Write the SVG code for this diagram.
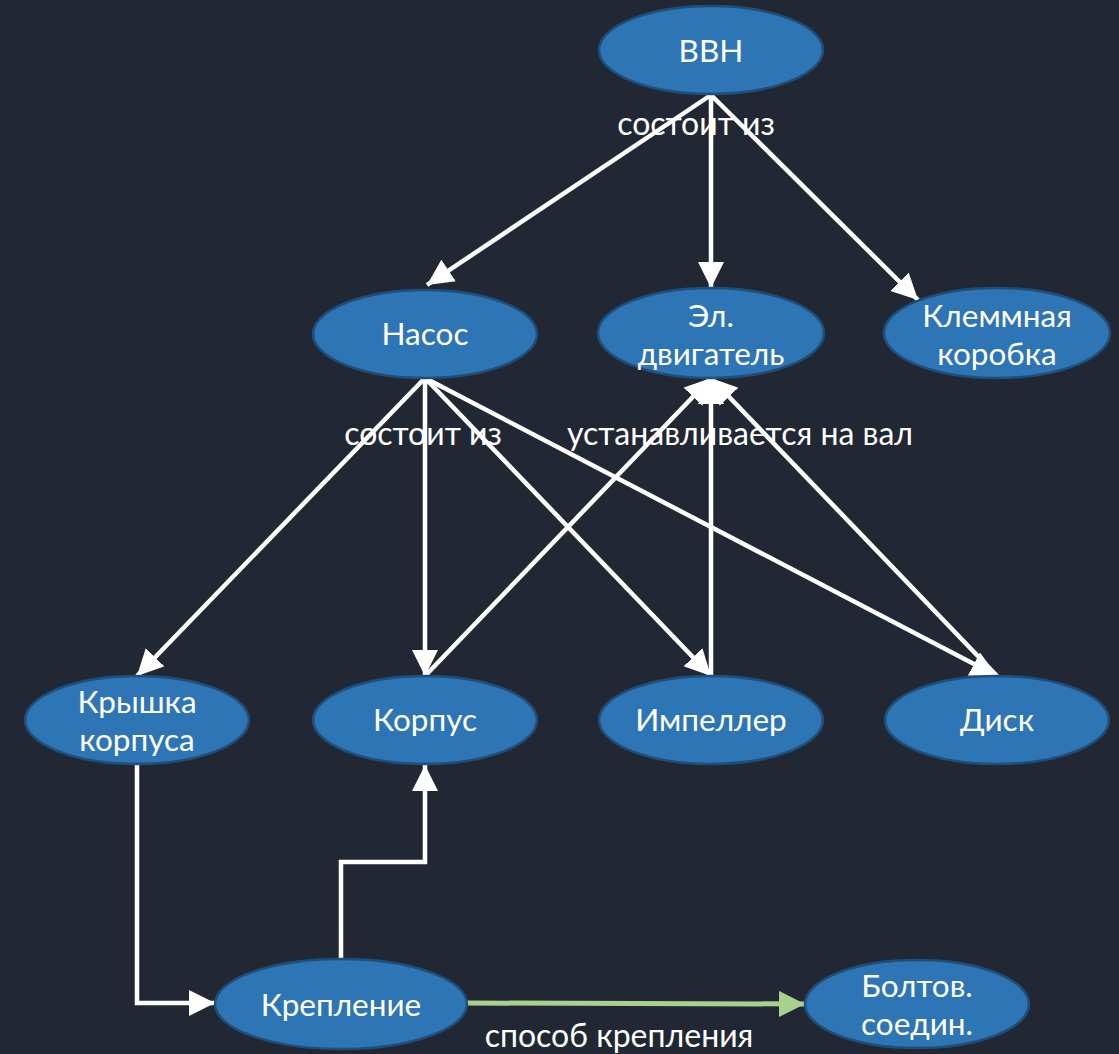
<svg xmlns="http://www.w3.org/2000/svg" width="1119" height="1054" viewBox="0 0 1119 1054">
  <style>
    .node ellipse { fill: #2e75b6; stroke: #1f4e79; stroke-width: 2.5; }
    .node text { fill: #ffffff; font-family: Lato, "Liberation Sans", sans-serif; font-size: 31.5px; text-anchor: middle; }
    .edge { fill: none; stroke: #ffffff; stroke-width: 4.5; marker-end: url(#arrow); }
    .edge-green { fill: none; stroke: #a9d18e; stroke-width: 5; marker-end: url(#arrow-green); }
    .label { fill: #ffffff; font-family: Lato, "Liberation Sans", sans-serif; font-size: 32px; text-anchor: middle; }
  </style>
  <defs>
    <marker id="arrow" markerUnits="userSpaceOnUse" markerWidth="28" markerHeight="28" refX="26" refY="13" orient="auto">
      <path d="M0,0 L26,13 L0,26 z" fill="#ffffff"/>
    </marker>
    <marker id="arrow-green" markerUnits="userSpaceOnUse" markerWidth="28" markerHeight="28" refX="26" refY="13" orient="auto">
      <path d="M0,0 L26,13 L0,26 z" fill="#a9d18e"/>
    </marker>
  </defs>
  <rect width="1119" height="1054" fill="#222833"/>

  <g id="connectors">
    <path class="edge" d="M711,95 L427,285"/>
    <path class="edge" d="M711,95 L711,288"/>
    <path class="edge" d="M711,95 L918,300"/>
    <path class="edge" d="M425,378 L137,676"/>
    <path class="edge" d="M425,378 L425,676"/>
    <path class="edge" d="M425,378 L711,676"/>
    <path class="edge" d="M425,378 L997,676"/>
    <path class="edge" d="M425,676 L711,378"/>
    <path class="edge" d="M711,676 L711,378"/>
    <path class="edge" d="M997,676 L711,378"/>
    <path class="edge" d="M137,765 L137,1003 L215,1003"/>
    <path class="edge" d="M341,959 L341,862 L425,862 L425,765"/>
    <path class="edge-green" d="M467,1003 L805,1004"/>
    <text class="label" x="696" y="135">состоит из</text>
    <text class="label" x="423" y="445">состоит из</text>
    <text class="label" x="740" y="445">устанавливается на вал</text>
    <text class="label" x="619" y="1047">способ крепления</text>
  </g>

  <g id="n-vvn" class="node">
    <ellipse cx="711" cy="50" rx="112" ry="44"/>
    <text x="711" y="62">ВВН</text>
  </g>
  <g id="n-nasos" class="node">
    <ellipse cx="425" cy="334" rx="112" ry="44"/>
    <text x="425" y="345">Насос</text>
  </g>
  <g id="n-dvigatel" class="node">
    <ellipse cx="711" cy="333" rx="113" ry="45"/>
    <text x="711" y="327">Эл.</text>
    <text x="711" y="365">двигатель</text>
  </g>
  <g id="n-korobka" class="node">
    <ellipse cx="997" cy="333" rx="113" ry="45"/>
    <text x="997" y="327">Клеммная</text>
    <text x="997" y="365">коробка</text>
  </g>
  <g id="n-kryshka" class="node">
    <ellipse cx="137" cy="720" rx="112" ry="44"/>
    <text x="137" y="713">Крышка</text>
    <text x="137" y="751">корпуса</text>
  </g>
  <g id="n-korpus" class="node">
    <ellipse cx="425" cy="720" rx="112" ry="44"/>
    <text x="425" y="731">Корпус</text>
  </g>
  <g id="n-impeller" class="node">
    <ellipse cx="711" cy="720" rx="112" ry="44"/>
    <text x="711" y="731">Импеллер</text>
  </g>
  <g id="n-disk" class="node">
    <ellipse cx="997" cy="720" rx="112" ry="44"/>
    <text x="997" y="731">Диск</text>
  </g>
  <g id="n-kreplenie" class="node">
    <ellipse cx="341" cy="1004" rx="126" ry="45"/>
    <text x="341" y="1016">Крепление</text>
  </g>
  <g id="n-bolty" class="node">
    <ellipse cx="917" cy="1004" rx="112" ry="44"/>
    <text x="917" y="997">Болтов.</text>
    <text x="917" y="1035">соедин.</text>
  </g>
</svg>
